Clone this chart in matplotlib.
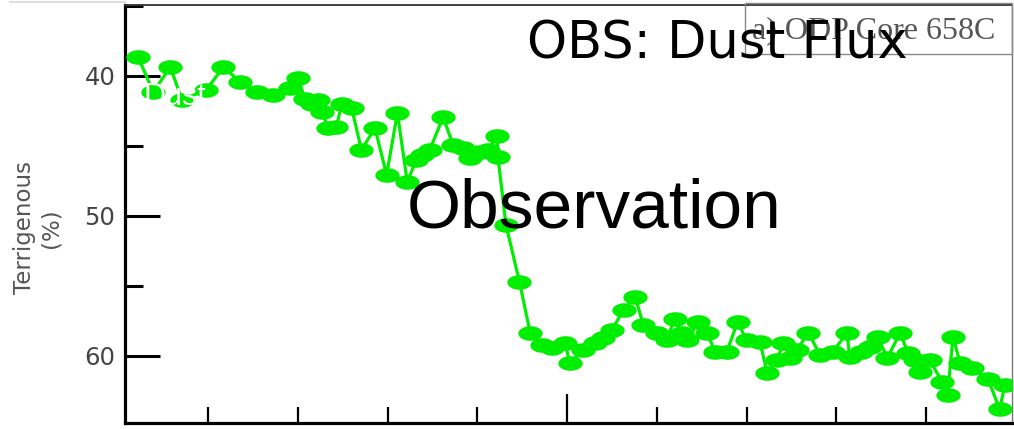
import matplotlib.pyplot as plt
import numpy as np
from matplotlib.path import Path
from matplotlib.patches import Rectangle
from matplotlib.ticker import FixedLocator

# position along the core (in tick units, the original x axis has no labels)
depth = np.array([0.22, 0.39, 0.58, 0.71, 0.98, 1.17, 1.36, 1.55, 1.72, 1.91,
                  2.00, 2.08, 2.16, 2.22, 2.27, 2.34, 2.43, 2.49, 2.60, 2.71,
                  2.86, 2.99, 3.11, 3.22, 3.32, 3.38, 3.47, 3.62, 3.73, 3.84,
                  3.92, 4.03, 4.12, 4.22, 4.23, 4.32, 4.47, 4.59, 4.72, 4.83,
                  4.98, 5.03, 5.18, 5.31, 5.40, 5.50, 5.63, 5.76, 5.85, 6.00,
                  6.11, 6.20, 6.28, 6.34, 6.46, 6.56, 6.65, 6.78, 6.90, 7.00,
                  7.15, 7.23, 7.34, 7.41, 7.49, 7.56, 7.69, 7.82, 7.96, 8.12,
                  8.15, 8.27, 8.38, 8.46, 8.57, 8.71, 8.80, 8.88, 8.93, 9.04,
                  9.18, 9.24, 9.30, 9.38, 9.51, 9.69, 9.82, 9.88])
# terrigenous fraction (%)
terr = np.array([38.64, 41.14, 39.36, 41.71, 41.00, 39.36, 40.43, 41.14, 41.36, 40.86,
                 40.14, 41.64, 42.00, 41.71, 42.57, 43.71, 43.64, 42.00, 42.29, 45.29,
                 43.71, 47.07, 42.64, 47.57, 46.00, 45.64, 45.29, 42.93, 44.93, 45.14,
                 45.86, 45.43, 45.29, 44.29, 45.79, 50.64, 54.71, 58.36, 59.21, 59.43,
                 59.07, 60.50, 59.57, 59.07, 58.71, 58.14, 56.71, 55.79, 57.79, 58.36,
                 58.86, 57.36, 58.36, 58.86, 57.57, 58.36, 59.71, 59.71, 57.57, 58.86,
                 59.00, 61.21, 60.29, 59.07, 60.14, 59.57, 58.36, 59.93, 59.71, 58.36,
                 60.07, 59.71, 59.36, 58.64, 60.14, 58.36, 59.79, 60.29, 61.14, 60.29,
                 61.86, 62.79, 58.64, 60.50, 60.86, 61.64, 63.79, 62.07])

y_major = [40, 50, 60]
y_minor = [35, 45, 55]
x_major = [5]
x_minor = [1, 2, 3, 4, 6, 7, 8, 9]

W, H = 1014, 429


def fpos(x, y):
    '''pixel position (from top left) -> figure fraction'''
    return x / W, 1 - y / H


fig = plt.figure(figsize=(W / 100, H / 100), dpi=100)
ax = fig.add_axes([125 / W, 6 / H, 887 / W, 418 / H])

# squashed circle, the markers look like flat ellipses
t = np.linspace(0, 2 * np.pi, 41)
ellipse = Path(np.column_stack([np.cos(t), 0.6 * np.sin(t)]), closed=True)

green = '#00ee00'
ax.plot(depth, terr, color=green, lw=2.3, marker=ellipse, ms=17.5,
        mfc=green, mec=green, mew=0, zorder=3)

ax.set_xlim(0.075, 9.958)
ax.set_ylim(64.79, 34.93)

ax.yaxis.set_major_locator(FixedLocator(y_major))
ax.yaxis.set_minor_locator(FixedLocator(y_minor))
ax.xaxis.set_major_locator(FixedLocator(x_major))
ax.xaxis.set_minor_locator(FixedLocator(x_minor))

ax.tick_params(axis='y', which='major', direction='in', length=25, width=2.2,
               labelsize=17.5, labelcolor='#444444', pad=7)
ax.tick_params(axis='y', which='minor', direction='in', length=13, width=2.2)
ax.tick_params(axis='x', which='major', direction='in', length=21, width=1.6,
               labelbottom=False)
ax.tick_params(axis='x', which='minor', direction='in', length=11.5, width=1.6)

ax.spines['left'].set_linewidth(2.3)
ax.spines['bottom'].set_linewidth(2.3)
ax.spines['top'].set_linewidth(1.3)
ax.spines['top'].set_color('#333333')
ax.spines['right'].set_linewidth(1.0)
ax.spines['right'].set_color('#777777')

# y label, two lines
fig.text(*fpos(38, 228), 'Terrigenous\n(%)', rotation=90, ha='center',
         va='center', ma='center', fontsize=16.5, color='#555555',
         linespacing=1.2)

# faint line at the very top left
fig.add_artist(plt.Line2D([10 / W, 125 / W], [1 - 2 / H, 1 - 2 / H],
                          color='#dddddd', lw=1.5))

# panel label box
x0, y0 = fpos(745, 54)
fig.add_artist(Rectangle((x0, y0), (1012 - 745) / W, 51 / H,
                         transform=fig.transFigure, fill=False,
                         ec='#888888', lw=1.0, zorder=4))
fig.text(*fpos(752, 38), 'a) ODP Core 658C', family='Liberation Serif',
         fontsize=23, color='#555555', va='baseline', zorder=5)

# overlaid annotations
fig.text(*fpos(143, 105), 'Dust', fontsize=22, color='white',
         family='Liberation Sans', va='baseline', zorder=6)
fig.text(*fpos(527, 57), 'OBS: Dust Flux', fontsize=36.7, color='black',
         family='DejaVu Sans', va='baseline', zorder=6)
fig.text(*fpos(407, 228), 'Observation', fontsize=50, color='black',
         family='Liberation Sans', va='baseline', zorder=6)

plt.savefig('out.png', dpi=100)
